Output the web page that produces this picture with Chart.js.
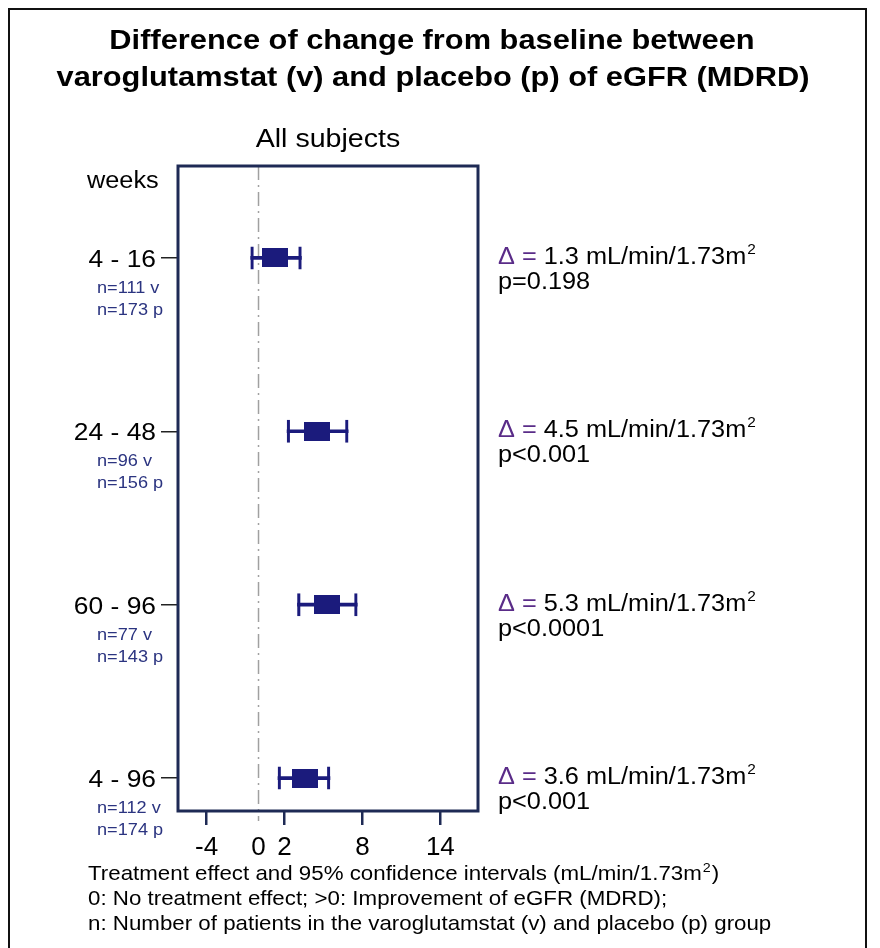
<!DOCTYPE html>
<html lang="en">
<head>
    <meta charset="UTF-8">
    <title>eGFR forest plot</title>
    <script src="https://cdn.jsdelivr.net/npm/chart.js"></script>
    <style>
        body { margin: 0; padding: 0; background: #fff; }
        #wrap { width: 880px; height: 948px; position: relative; }
    </style>
</head>
<body>
    <div id="wrap">
        <canvas id="forest" width="880" height="948"></canvas>
    </div>
    <script>
        // data
        const periods = ['4 - 16', '24 - 48', '60 - 96', '4 - 96'];
        const nVaro = [111, 96, 77, 112];
        const nPlac = [173, 156, 143, 174];
        const effect = [1.3, 4.5, 5.3, 3.6];
        const ciLow = [-0.6, 2.2, 3.0, 1.5];
        const ciHigh = [3.3, 6.9, 7.6, 5.5];
        const pValues = ['p=0.198', 'p<0.001', 'p<0.0001', 'p<0.001'];
        const xTicks = [-4, 0, 2, 8, 14];

        const NAVY = '#1b1b7c';
        const FRAME = '#1e2a55';
        const SX = 1.1; // the original text looks slightly stretched

        // marker for the point estimate
        const marker = document.createElement('canvas');
        marker.width = 26; marker.height = 19;
        const mctx = marker.getContext('2d');
        mctx.fillStyle = NAVY;
        mctx.fillRect(0, 0, 26, 19);

        function drawText(ctx, s, x, y, font, color, align) {
            ctx.save();
            ctx.font = font;
            ctx.fillStyle = color;
            ctx.textAlign = align || 'left';
            ctx.textBaseline = 'alphabetic';
            ctx.translate(x, y);
            ctx.scale(SX, 1);
            ctx.fillText(s, 0, 0);
            const w = ctx.measureText(s).width * SX;
            ctx.restore();
            return w;
        }

        const decorations = {
            id: 'decorations',
            beforeDatasetsDraw(chart) {
                const ctx = chart.ctx;
                const a = chart.chartArea;
                const x0 = chart.scales.x.getPixelForValue(0);
                // zero line
                ctx.save();
                ctx.strokeStyle = '#a0a0a0';
                ctx.lineWidth = 1.5;
                ctx.setLineDash([14, 5, 2, 5]);
                ctx.beginPath();
                ctx.moveTo(x0, a.top);
                ctx.lineTo(x0, a.bottom + 10);
                ctx.stroke();
                ctx.restore();
            },
            afterDraw(chart) {
                const ctx = chart.ctx;
                const a = chart.chartArea;
                const y = chart.scales.y;

                // plot frame
                ctx.save();
                ctx.strokeStyle = FRAME;
                ctx.lineWidth = 3;
                ctx.strokeRect(a.left, a.top, a.right - a.left, a.bottom - a.top);
                // outer border of the figure
                ctx.strokeStyle = '#111';
                ctx.lineWidth = 2;
                ctx.strokeRect(9, 9, 857, 1000);
                ctx.restore();

                const F = 'Liberation Sans, Arial, sans-serif';
                drawText(ctx, 'Difference of change from baseline between', 432, 49, 'bold 28px ' + F, '#000', 'center');
                drawText(ctx, 'varoglutamstat (v) and placebo (p) of eGFR (MDRD)', 433, 86, 'bold 28px ' + F, '#000', 'center');
                drawText(ctx, 'All subjects', (a.left + a.right) / 2, 147, '26px ' + F, '#000', 'center');
                drawText(ctx, 'weeks', 87, 188, '23px ' + F, '#000', 'left');

                periods.forEach((p, i) => {
                    const py = y.getPixelForValue(i);
                    drawText(ctx, p, 156, py + 9, '24px ' + F, '#000', 'right');
                    drawText(ctx, 'n=' + nVaro[i] + ' v', 97, py + 35, '16.5px ' + F, '#2b3480', 'left');
                    drawText(ctx, 'n=' + nPlac[i] + ' p', 97, py + 57, '16.5px ' + F, '#2b3480', 'left');

                    let x = 498;
                    x += drawText(ctx, '\u0394 =', x, py + 6, '23px ' + F, '#5a2c88', 'left');
                    x += drawText(ctx, ' ' + effect[i].toFixed(1) + ' mL/min/1.73m', x, py + 6, '23px ' + F, '#000', 'left');
                    drawText(ctx, '2', x + 1, py - 4, '14px ' + F, '#000', 'left');
                    drawText(ctx, pValues[i], 498, py + 31, '23px ' + F, '#000', 'left');
                });

                let fx = 88;
                const FF = '20.3px ' + F;
                fx += drawText(ctx, 'Treatment effect and 95% confidence intervals (mL/min/1.73m', fx, 880, FF, '#000', 'left');
                fx += drawText(ctx, '2', fx + 1, 872, '13px ' + F, '#000', 'left');
                drawText(ctx, ')', fx + 2, 880, FF, '#000', 'left');
                drawText(ctx, '0: No treatment effect; >0: Improvement of eGFR (MDRD);', 88, 905, FF, '#000', 'left');
                drawText(ctx, 'n: Number of patients in the varoglutamstat (v) and placebo (p) group', 88, 930, FF, '#000', 'left');
            }
        };

        const ctx = document.getElementById('forest').getContext('2d');
        const forest = new Chart(ctx, {
            type: 'bar',
            data: {
                datasets: [{
                    // whisker line
                    type: 'bar',
                    indexAxis: 'y',
                    grouped: false,
                    order: 2,
                    data: ciLow.map((lo, i) => ({ x: [lo, ciHigh[i]], y: i })),
                    backgroundColor: NAVY,
                    borderWidth: 0,
                    barThickness: 3
                }, {
                    // caps
                    type: 'bar',
                    indexAxis: 'y',
                    grouped: false,
                    order: 1,
                    data: ciLow.map((lo, i) => ({ x: [lo, ciHigh[i]], y: i })),
                    backgroundColor: 'rgba(0,0,0,0)',
                    borderColor: NAVY,
                    borderSkipped: false,
                    borderWidth: { left: 2.5, right: 2.5, top: 0, bottom: 0 },
                    barThickness: 23
                }, {
                    // point estimates
                    type: 'scatter',
                    order: 0,
                    data: effect.map((v, i) => ({ x: v, y: i })),
                    pointStyle: marker,
                    pointRadius: 10,
                    showLine: false
                }]
            },
            options: {
                responsive: false,
                animation: false,
                layout: { padding: { left: 161, right: 402, top: 166, bottom: 77 } },
                plugins: { legend: { display: false }, tooltip: { enabled: false } },
                scales: {
                    x: {
                        type: 'linear',
                        min: -6.2,
                        max: 16.9,
                        offset: false,
                        clip: false,
                        afterBuildTicks: s => { s.ticks = xTicks.map(v => ({ value: v })); },
                        afterFit: s => { s.height = 60; },
                        border: { display: false },
                        grid: {
                            offset: false,
                            drawOnChartArea: false,
                            tickLength: 14,
                            lineWidth: 2.5,
                            color: c => (c.tick && c.tick.value === 0) ? 'rgba(0,0,0,0)' : FRAME
                        },
                        ticks: {
                            autoSkip: false,
                            maxRotation: 0,
                            padding: 7,
                            color: '#000',
                            font: { family: 'Liberation Sans, Arial, sans-serif', size: 26 }
                        }
                    },
                    y: {
                        type: 'linear',
                        reverse: true,
                        min: -0.53,
                        max: 3.19,
                        offset: false,
                        afterBuildTicks: s => { s.ticks = periods.map((p, i) => ({ value: i })); },
                        afterFit: s => { s.width = 17; },
                        border: { display: false },
                        grid: {
                            offset: false,
                            drawOnChartArea: false,
                            tickLength: 17,
                            lineWidth: 1.5,
                            color: '#222'
                        },
                        ticks: { display: false }
                    }
                }
            },
            plugins: [decorations]
        });
    </script>
</body>
</html>
